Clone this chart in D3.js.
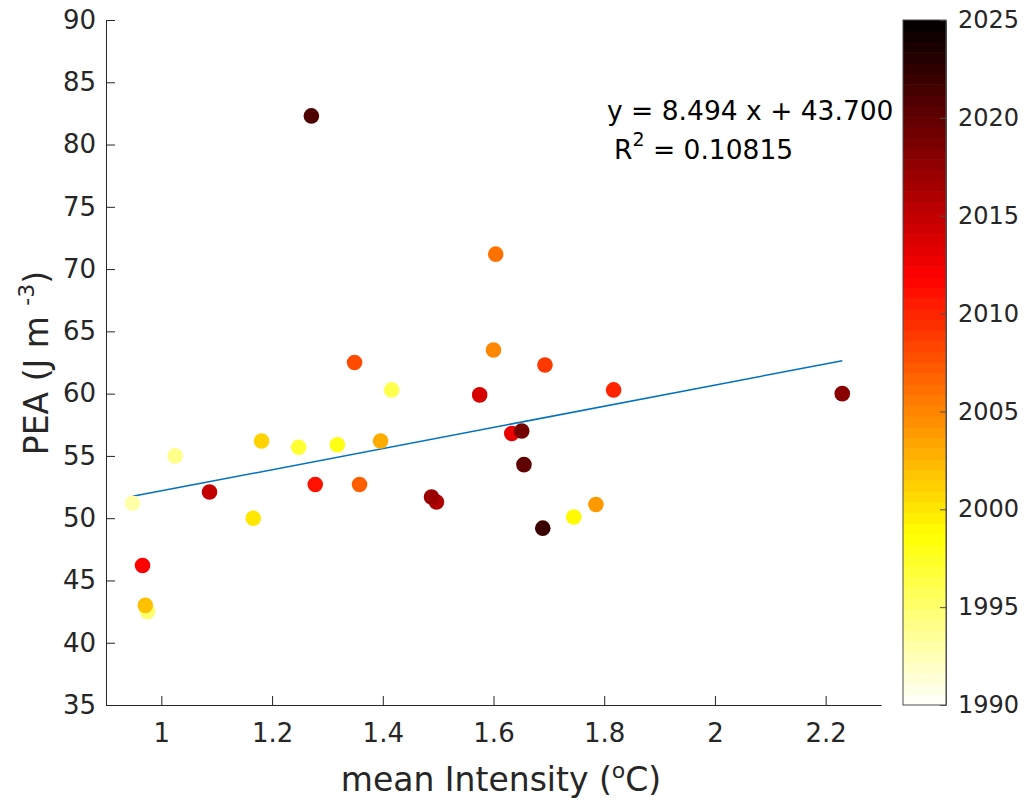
<html lang="en">
<head>
  <meta charset="UTF-8"/>
  <title>PEA vs mean intensity</title>
  <script src="https://d3js.org/d3.v7.min.js"></script>
  <style>
body {
  margin: 0;
  background: #fff;
  font-family: 'DejaVu Sans', sans-serif;
}

svg {
  display: block;
}

.axis text {
  font-size: 26px;
  fill: #262626;
  font-family: 'DejaVu Sans', sans-serif;
}

.axis.cbar text {
  font-size: 24px;
}

.axis path, .axis line {
  stroke: #262626;
  stroke-width: 1;
}

.cbar path, .cbar line {
  stroke: #4d4d4d;
}

text.label {
  font-size: 33px;
  fill: #262626;
}

text.eq {
  font-size: 26.5px;
  fill: #000;
}
  </style>
</head>
<body>
  <svg width="1025" height="803"></svg>
  <script>

// data
const intensity = [0.948, 1.025, 0.975, 1.416, 1.248, 1.318, 1.745, 1.166, 1.181, 0.971,
                   1.396, 1.785, 1.600, 1.604, 1.358, 1.349, 1.693, 1.817, 1.278, 0.966,
                   1.633, 1.575, 1.087, 1.497, 1.488, 2.230, 1.651, 1.655, 1.271, 1.689];
const pea = [51.2, 55.0, 42.5, 60.3, 55.7, 55.9, 50.1, 50.0, 56.2, 43.0,
             56.2, 51.1, 63.5, 71.2, 52.7, 62.5, 62.3, 60.3, 52.7, 46.2,
             56.8, 59.9, 52.1, 51.3, 51.7, 60.0, 57.0, 54.3, 82.3, 49.2];
const years = [1993, 1994, 1995, 1996, 1997, 1998, 1999, 2000, 2001, 2002,
               2003, 2004, 2005, 2006, 2007, 2008, 2009, 2010, 2011, 2012,
               2013, 2014, 2015, 2016, 2017, 2018, 2019, 2020, 2021, 2022];

const xTicks = [1, 1.2, 1.4, 1.6, 1.8, 2, 2.2];
const yTicks = [35, 40, 45, 50, 55, 60, 65, 70, 75, 80, 85, 90];
const cTicks = [1990, 1995, 2000, 2005, 2010, 2015, 2020, 2025];

const slope = 8.494;
const intercept = 43.700;
const r2 = '0.10815';

const points = intensity.map((x, i) => ({x: x, y: pea[i], year: years[i]}));

const svg = d3.select('svg');

const pLeft = 106, pRight = 881, pTop = 20, pBottom = 705;

const xScale = d3.scaleLinear().domain([0.9, 2.3]).range([pLeft, pRight]);
const yScale = d3.scaleLinear().domain([35, 90]).range([pBottom, pTop]);

// flipped "hot" colormap: 1990 white -> 2025 black
function hot(v) {
  const r = Math.min(1, v / 0.375);
  const g = Math.max(0, Math.min(1, (v - 0.375) / 0.375));
  const b = Math.max(0, Math.min(1, (v - 0.75) / 0.25));
  return d3.rgb(r * 255, g * 255, b * 255).toString();
}
const colorScale = d3.scaleLinear().domain([1990, 2025]).range([1, 0]);
const color = (yr) => hot(colorScale(yr));

// axes
svg.append('g')
  .attr('class', 'axis')
  .attr('transform', `translate(0, ${pBottom})`)
  .call(d3.axisBottom(xScale)
    .tickValues(xTicks)
    .tickFormat(d3.format('~g'))
    .tickSizeInner(-9)
    .tickSizeOuter(0)
    .tickPadding(19));

svg.append('g')
  .attr('class', 'axis')
  .attr('transform', `translate(${pLeft}, 0)`)
  .call(d3.axisLeft(yScale)
    .tickValues(yTicks)
    .tickSizeInner(-9)
    .tickSizeOuter(0)
    .tickPadding(10));

// fit line over the data range
const xr = d3.extent(intensity);
svg.append('line')
  .attr('x1', xScale(xr[0]))
  .attr('y1', yScale(slope * xr[0] + intercept))
  .attr('x2', xScale(xr[1]))
  .attr('y2', yScale(slope * xr[1] + intercept))
  .attr('stroke', '#0072BD')
  .attr('stroke-width', 1.5);

svg.append('g')
  .selectAll('circle')
  .data(points)
  .enter()
  .append('circle')
  .attr('cx', (d) => xScale(d.x))
  .attr('cy', (d) => yScale(d.y))
  .attr('r', 7.8)
  .attr('fill', (d) => color(d.year));

// colorbar
const cx0 = 903, cx1 = 946;
const cScale = d3.scaleLinear().domain([1990, 2025]).range([pBottom, pTop]);
const steps = d3.range(64);
const stepH = (pBottom - pTop) / 64;
svg.append('g')
  .selectAll('rect')
  .data(steps)
  .enter()
  .append('rect')
  .attr('x', cx0)
  .attr('width', cx1 - cx0)
  .attr('y', (i) => cScale(1990 + (i + 1) * 35 / 64))
  .attr('height', stepH + 0.6)
  .attr('fill', (i) => color(1990 + (i + 0.5) * 35 / 64));

svg.append('rect')
  .attr('x', cx0)
  .attr('y', pTop)
  .attr('width', cx1 - cx0)
  .attr('height', pBottom - pTop)
  .attr('fill', 'none')
  .attr('stroke', '#4d4d4d');

svg.append('g')
  .attr('class', 'axis cbar')
  .attr('transform', `translate(${cx1}, 0)`)
  .call(d3.axisRight(cScale)
    .tickValues(cTicks)
    .tickFormat(d3.format('d'))
    .tickSizeInner(-6)
    .tickSizeOuter(0)
    .tickPadding(12));

// labels
const xl = svg.append('text')
  .attr('class', 'label')
  .attr('x', 501)
  .attr('y', 791)
  .attr('text-anchor', 'middle');
xl.append('tspan').text('mean Intensity (');
xl.append('tspan').attr('dy', -13).attr('font-size', '22px').text('o');
xl.append('tspan').attr('dy', 13).text('C)');

const yl = svg.append('text')
  .attr('class', 'label')
  .attr('transform', `translate(48, 363) rotate(-90)`)
  .attr('text-anchor', 'middle');
yl.append('tspan').text('PEA (J m ');
yl.append('tspan').attr('dy', -14).attr('font-size', '22px').text('-3');
yl.append('tspan').attr('dy', 14).text(')');

svg.append('text')
  .attr('class', 'eq')
  .attr('x', 607)
  .attr('y', 120)
  .text(`y = ${slope.toFixed(3)} x + ${intercept.toFixed(3)}`);

const rl = svg.append('text')
  .attr('class', 'eq')
  .attr('x', 614)
  .attr('y', 159);
rl.append('tspan').text('R');
rl.append('tspan').attr('dy', -13).attr('font-size', '19px').text('2');
rl.append('tspan').attr('dy', 13).text(` = ${r2}`);

  </script>
</body>
</html>
